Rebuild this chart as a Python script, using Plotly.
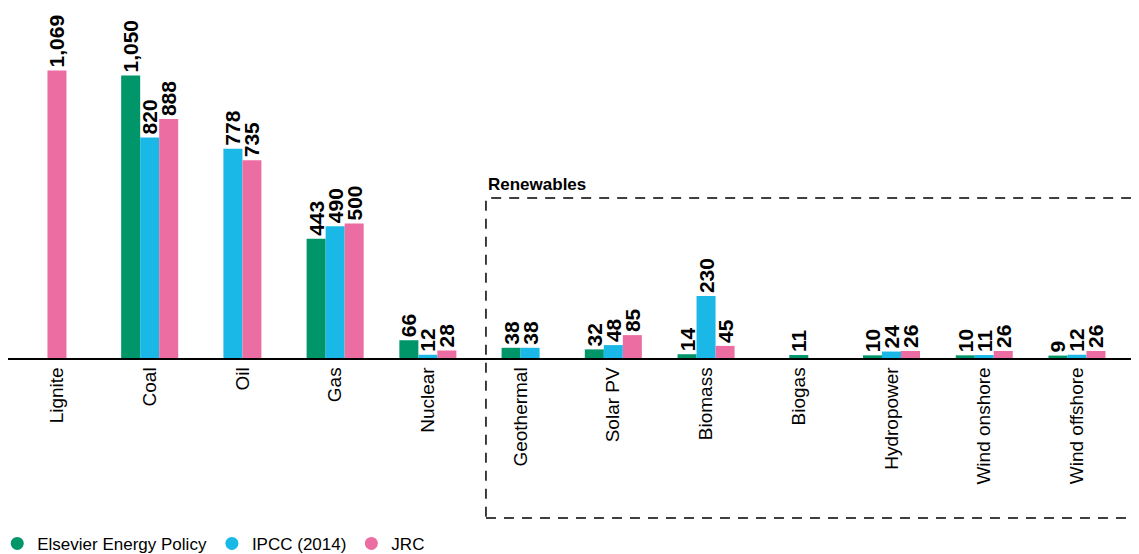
import plotly.graph_objects as go

# --- data ---
categories = ["Lignite", "Coal", "Oil", "Gas", "Nuclear", "Geothermal", "Solar PV",
              "Biomass", "Biogas", "Hydropower", "Wind onshore", "Wind offshore"]
elsevier = [None, 1050, None, 443, 66, 38, 32, 14, 11, 10, 10, 9]
ipcc = [None, 820, 778, 490, 12, 38, 48, 230, None, 24, 11, 12]
jrc = [1069, 888, 735, 500, 28, None, 85, 45, None, 26, 26, 26]

series = [
    ("Elsevier Energy Policy", elsevier, "#00966A"),
    ("IPCC (2014)", ipcc, "#1AB8E6"),
    ("JRC", jrc, "#EC6DA1"),
]

FONT = "Liberation Sans, Arial, sans-serif"
BAR_W = 0.205  # width of one bar in category units

# bars present in each category are centred on the category
offsets = {name: [] for name, _, _ in series}
for i in range(len(categories)):
    present = [name for name, vals, _ in series if vals[i] is not None]
    start = -len(present) * BAR_W / 2
    for name, vals, _ in series:
        if name in present:
            offsets[name].append(start + present.index(name) * BAR_W)
        else:
            offsets[name].append(0)

fig = go.Figure()
for name, vals, color in series:
    fig.add_trace(go.Bar(
        x=categories, y=vals, name=name,
        marker=dict(color=color, line=dict(width=0)),
        width=BAR_W, offset=offsets[name],
        # trailing no-break space leaves a little room above the bar
        texttemplate="%{y:,}\u00a0", textposition="outside", textangle=-90,
        constraintext="none", cliponaxis=False,
        textfont=dict(family=FONT, size=21, color="black", weight="bold"),
        showlegend=False, hoverinfo="x+y+name",
    ))
    # round legend markers
    fig.add_trace(go.Scatter(
        x=[None], y=[None], mode="markers", name=name,
        marker=dict(color=color, size=13, symbol="circle"),
    ))

# dashed "Renewables" frame
fig.add_shape(type="rect", xref="paper", yref="paper",
              x0=0.4226, x1=1.02, y0=-0.457, y1=0.457,
              line=dict(color="black", width=1.5, dash="10px,8px"))
fig.add_annotation(text="<b>Renewables</b>", xref="paper", yref="paper",
                   x=0.4226, y=0.457, xanchor="left", yanchor="bottom", yshift=2,
                   showarrow=False, font=dict(family=FONT, size=17, color="black"))

# the page adds an 8px body margin, so the figure is sized to fit inside it
fig.update_layout(
    width=1131, height=546,
    margin=dict(l=0, r=0, t=0, b=196, autoexpand=False),
    barmode="overlay",
    plot_bgcolor="white", paper_bgcolor="white",
    font=dict(family=FONT, color="black"),
    legend=dict(orientation="h", x=-0.0095, xanchor="left", y=-0.531, yanchor="middle",
                font=dict(family=FONT, size=17, color="black"), itemwidth=30),
)
fig.update_xaxes(
    type="category", range=[-0.528, 11.669],
    showline=True, linecolor="black", linewidth=1.5,
    ticks="", tickangle=-90, ticklabelstandoff=0,
    tickfont=dict(family=FONT, size=19, color="black"),
    showgrid=False, zeroline=False,
)
fig.update_yaxes(range=[0, 1301], visible=False, showgrid=False, zeroline=False)

fig.write_html("out.html")
